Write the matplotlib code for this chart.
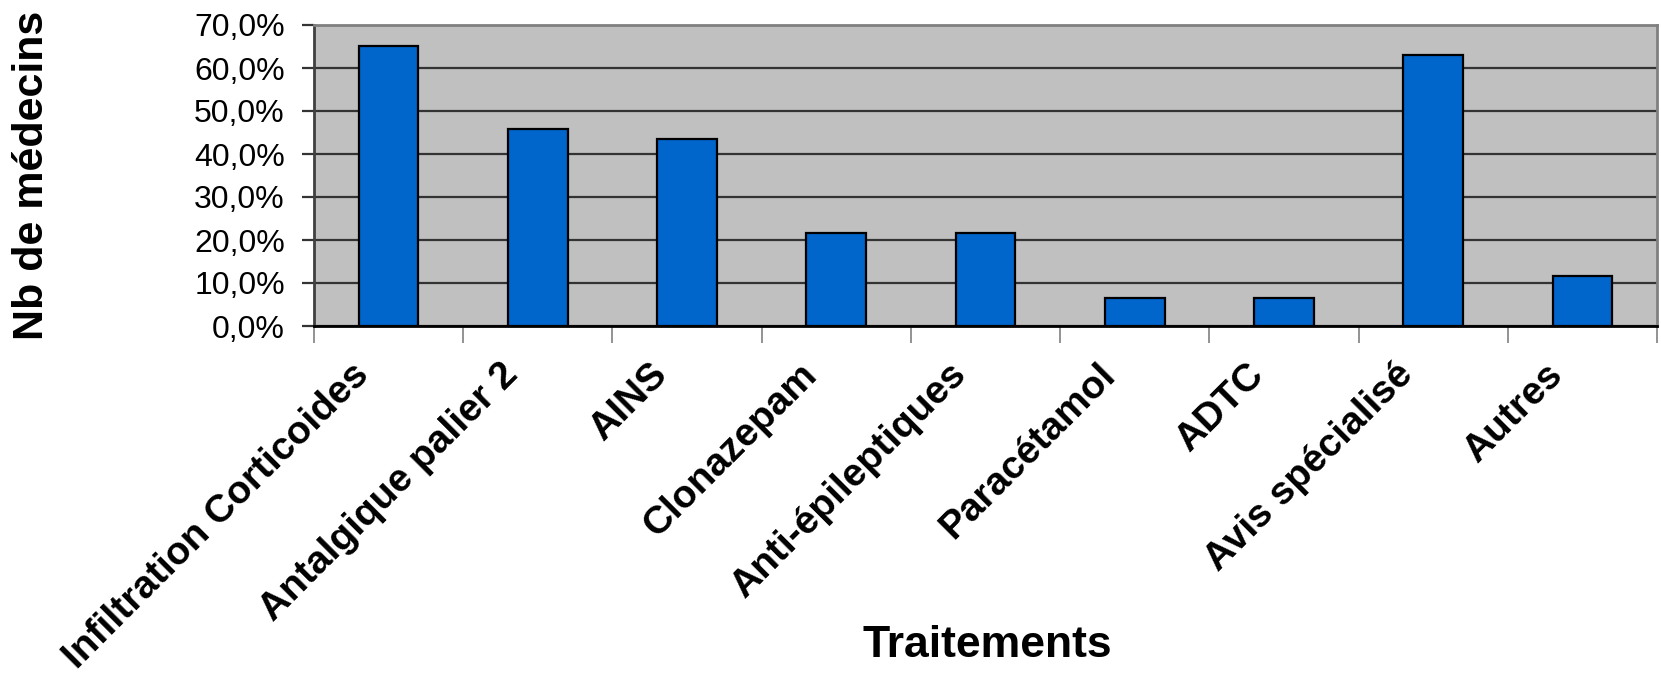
import numpy as np
import matplotlib.pyplot as plt
import matplotlib.transforms as mtransforms
from matplotlib.ticker import FuncFormatter

traitements = ["Infiltration Corticoides", "Antalgique palier 2", "AINS",
               "Clonazepam", "Anti-épileptiques", "Paracétamol", "ADTC",
               "Avis spécialisé", "Autres"]
pourcentages = [65.2, 45.7, 43.5, 21.7, 21.7, 6.5, 6.5, 63.0, 11.6]

plt.rcParams['font.family'] = ['Liberation Sans', 'DejaVu Sans']

W, H = 1661, 678
fig = plt.figure(figsize=(W / 100, H / 100), dpi=100)
ax = fig.add_axes([314 / W, 1 - 326 / H, (1657 - 314) / W, (326 - 25) / H])

x = np.arange(len(traitements))
ax.set_facecolor('#C0C0C0')
ax.set_axisbelow(True)
ax.yaxis.grid(True, color='#333333', linewidth=1.6)
ax.bar(x, pourcentages, width=0.40, color='#0066CC', edgecolor='black',
       linewidth=1.6, zorder=3)

ax.set_xlim(-0.5, len(traitements) - 0.5)
ax.set_ylim(0, 70)
ax.set_yticks(np.arange(0, 71, 10))
ax.yaxis.set_major_formatter(FuncFormatter(lambda v, p: f"{v:.1f}%".replace('.', ',')))
ax.tick_params(axis='y', length=9, width=1.6, color='#333333', pad=12,
               labelsize=23)

# category ticks between bars, labels centred on bars
ax.set_xticks(np.arange(-0.5, len(traitements), 1.0))
ax.tick_params(axis='x', which='major', length=12, width=1.2, color='#808080',
               labelbottom=False)
ax.set_xticks(x, minor=True)
ax.set_xticklabels(traitements, minor=True, rotation=45, ha='right', va='top',
                   rotation_mode='anchor', fontsize=28, fontweight='bold')
ax.tick_params(axis='x', which='minor', length=0, pad=22)
shift = mtransforms.ScaledTranslation(-0.38, 0, fig.dpi_scale_trans)
for lab in ax.get_xticklabels(minor=True):
    lab.set_transform(lab.get_transform() + shift)

for s in ['top', 'right']:
    ax.spines[s].set_color('#808080')
    ax.spines[s].set_linewidth(2)
ax.spines['left'].set_color('#404040')
ax.spines['left'].set_linewidth(2)
ax.spines['bottom'].set_color('black')
ax.spines['bottom'].set_linewidth(2)

fig.text(32 / W, 1 - 175 / H, "Nb de médecins", rotation=90, ha='center',
         va='center', fontsize=31, fontweight='bold')
fig.text(987 / W, 1 - 657 / H, "Traitements", ha='center', va='baseline',
         fontsize=32, fontweight='bold')

fig.savefig('out.png', dpi=100)
